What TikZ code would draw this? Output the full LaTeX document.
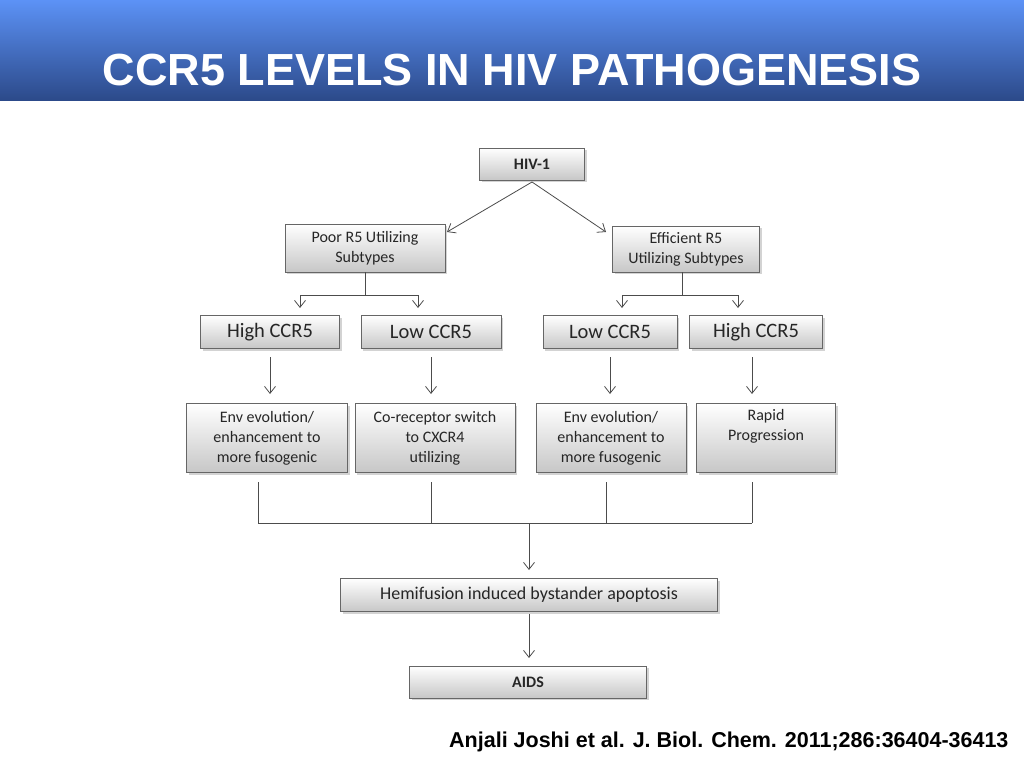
\documentclass[tikz,border=0pt]{standalone}
\usepackage{fontspec}
\setmainfont{Carlito}
\newfontfamily\headfont{Liberation Sans}
\usetikzlibrary{arrows.meta,shadows}
\tikzset{
  box/.style={draw=black!60, line width=0.8pt, top color=white, bottom color=black!22,
    drop shadow={shadow xshift=2pt, shadow yshift=-2pt, opacity=0.35},
    align=center, font=\fontsize{16}{20}\selectfont, text=black!85},
  big/.style={font=\fontsize{20.5}{22}\selectfont},
  flow/.style={-{Straight Barb[length=7pt,width=11pt]}, draw=black!70, line width=0.8pt},
  link/.style={draw=black!70, line width=0.8pt},
}
\begin{document}
\begin{tikzpicture}[x=1pt,y=-1pt]
  \useasboundingbox (0,0) rectangle (1024,768);
  \fill[top color={rgb,255:red,92;green,146;blue,246}, bottom color={rgb,255:red,44;green,74;blue,138}] (0,0) rectangle (1024,100);
  \node (title) at (512,70) {\headfont\bfseries\fontsize{45}{50}\selectfont\textcolor{white}{CCR5 LEVELS IN HIV PATHOGENESIS}};
  % boxes
  \node (hiv) at (532,164) [box, minimum width=105, minimum height=32] {\bfseries HIV-1};
  \node (poor) at (365,248) [box, minimum width=160, minimum height=48] {Poor R5 Utilizing\\Subtypes};
  \node (eff) at (686,249) [box, minimum width=147, minimum height=46] {Efficient R5\\Utilizing Subtypes};
  \node (hl) at (270,332) [box, big, minimum width=139, minimum height=33] {High CCR5};
  \node (ll) at (431,332) [box, big, minimum width=140, minimum height=33] {Low CCR5};
  \node (lr) at (610,332) [box, big, minimum width=134, minimum height=33] {Low CCR5};
  \node (hr) at (756,332) [box, big, minimum width=133, minimum height=33] {High CCR5};
  \node (env1) at (267,438) [box, minimum width=161, minimum height=69] {Env evolution/\\enhancement to\\more fusogenic};
  \node (cor) at (435,438) [box, minimum width=160, minimum height=69] {Co-receptor switch\\to CXCR4\\utilizing};
  \node (env2) at (611,438) [box, minimum width=150, minimum height=69] {Env evolution/\\enhancement to\\more fusogenic};
  \node (rapid) at (766,438) [box, minimum width=139, minimum height=69] {Rapid\\Progression\\\strut};
  \node (hemi) at (529,595) [box, minimum width=377, minimum height=33, font=\fontsize{18}{20}\selectfont] {Hemifusion induced bystander apoptosis};
  \node (aids) at (528,682) [box, minimum width=237, minimum height=32] {\bfseries AIDS};
  \node (cite) at (1012,742) [anchor=east] {\headfont\bfseries\fontsize{21.5}{24}\selectfont Anjali Joshi et al. J. Biol. Chem. 2011;286:36404-36413};
  % connectors
  \coordinate (top) at (532,182);
  \draw[flow] (top) -- (447,232);
  \draw[flow] (top) -- (606,232);
  \coordinate (pj) at (365,295);
  \coordinate (ej) at (682,295);
  \draw[link] (poor.south) -- (pj);
  \draw[link] (682,272) -- (ej);
  \draw[flow] (pj) -| (300,308);
  \draw[flow] (pj) -| (418,308);
  \draw[flow] (ej) -| (622,308);
  \draw[flow] (ej) -| (738,308);
  \foreach \n/\x in {hl/270, ll/431, lr/610, hr/752}
    \draw[flow] (\x,357) -- (\x,394);
  \coordinate (bus) at (529,523);
  \foreach \x in {258, 431, 606, 752}
    \draw[link] (\x,482) -- (\x,523);
  \draw[link] (258,523) -- (752,523);
  \draw[flow] (bus) -- (529,570);
  \coordinate (ha) at (529,614);
  \draw[flow] (ha) -- (529,658);
\end{tikzpicture}
\end{document}
